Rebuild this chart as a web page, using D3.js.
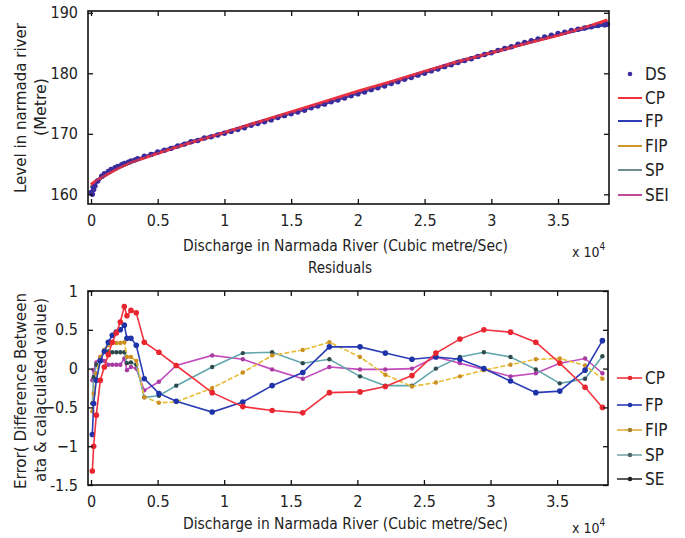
<!DOCTYPE html>
<html>
<head>
<meta charset="utf-8">
<script src="https://cdn.jsdelivr.net/npm/d3@7"></script>
<style>
  body { margin: 0; background: #fff; }
  svg text { font-family: "Liberation Sans Narrow", "DejaVu Sans Condensed", "Arial Narrow", sans-serif; fill: #222; }
</style>
</head>
<body>
<svg id="chart" width="685" height="538"></svg>
<script>
// ---- data (discharge in units of 1e4 cubic metre/sec) ----
var dsQ = [0, 0.01, 0.02, 0.03, 0.05, 0.08, 0.1, 0.13, 0.15, 0.18, 0.2, 0.23, 0.25, 0.28, 0.3, 0.33, 0.35,
           0.4, 0.45, 0.5, 0.55, 0.6, 0.65, 0.7, 0.75, 0.8, 0.85, 0.9, 0.95, 1, 1.05, 1.1, 1.15, 1.2, 1.25,
           1.3, 1.35, 1.4, 1.45, 1.5, 1.55, 1.6, 1.65, 1.7, 1.75, 1.8, 1.85, 1.9, 1.95, 2, 2.05, 2.1, 2.15,
           2.2, 2.25, 2.3, 2.35, 2.4, 2.45, 2.5, 2.55, 2.6, 2.65, 2.7, 2.75, 2.8, 2.85, 2.9, 2.95, 3, 3.05,
           3.1, 3.15, 3.2, 3.25, 3.3, 3.35, 3.4, 3.45, 3.5, 3.55, 3.6, 3.65, 3.7, 3.75, 3.8, 3.85, 3.87];
var dsLevel = [160.3, 160.0, 160.8, 161.4, 162.2, 163.0, 163.4, 163.8, 164.1, 164.4, 164.6, 164.9, 165.1, 165.3, 165.5, 165.7, 165.9,
               166.3, 166.6, 167.0, 167.3, 167.6, 168.0, 168.3, 168.7, 168.9, 169.3, 169.5, 169.8, 170.1, 170.4, 170.7, 171.0, 171.4, 171.7,
               172.0, 172.3, 172.7, 173.0, 173.3, 173.6, 173.9, 174.3, 174.6, 174.9, 175.3, 175.6, 175.9, 176.3, 176.6, 176.9, 177.3, 177.6,
               177.9, 178.3, 178.6, 179.0, 179.3, 179.7, 180.0, 180.4, 180.7, 181.1, 181.4, 181.8, 182.1, 182.4, 182.8, 183.1, 183.4, 183.8,
               184.1, 184.4, 184.8, 185.1, 185.4, 185.7, 186.0, 186.3, 186.6, 186.8, 187.1, 187.3, 187.5, 187.7, 187.9, 188.0, 188.1];

var fitQ = [0, 0.05, 0.1, 0.2, 0.3, 0.5, 0.75, 1, 1.25, 1.5, 1.75, 2, 2.25, 2.5, 2.75, 3, 3.25, 3.5, 3.75, 3.87];
var fitCP  = [161.6, 162.4, 163.1, 164.3, 165.3, 166.8, 168.6, 170.2, 171.9, 173.6, 175.3, 177.0, 178.6, 180.3, 181.9, 183.4, 184.9, 186.3, 187.9, 188.8];
var fitFP  = [161.0, 162.2, 163.1, 164.4, 165.4, 167.0, 168.7, 170.2, 171.8, 173.4, 175.0, 176.7, 178.4, 180.1, 181.8, 183.4, 185.0, 186.4, 187.6, 188.1];
var fitFIP = [161.2, 162.3, 163.1, 164.3, 165.3, 166.9, 168.6, 170.1, 171.8, 173.5, 175.1, 176.8, 178.5, 180.2, 181.9, 183.4, 185.0, 186.4, 187.7, 188.3];
var fitSP  = [161.1, 162.2, 163.1, 164.3, 165.3, 166.9, 168.6, 170.2, 171.9, 173.5, 175.1, 176.8, 178.5, 180.2, 181.9, 183.4, 184.9, 186.4, 187.7, 188.4];
var fitSEI = [161.3, 162.3, 163.0, 164.3, 165.3, 166.8, 168.6, 170.2, 171.9, 173.5, 175.2, 176.9, 178.6, 180.3, 182.0, 183.4, 184.9, 186.3, 187.8, 188.5];

var resQ = [0.01, 0.02, 0.04, 0.07, 0.1, 0.13, 0.16, 0.19, 0.22, 0.25, 0.27, 0.3, 0.34, 0.4, 0.51, 0.64,
            0.91, 1.14, 1.36, 1.59, 1.79, 2.02, 2.21, 2.41, 2.59, 2.77, 2.95, 3.15, 3.34, 3.52, 3.71, 3.84];
var resCP  = [-1.32, -1.0, -0.6, -0.15, 0.02, 0.18, 0.34, 0.46, 0.6, 0.8, 0.68, 0.75, 0.72, 0.34, 0.21, 0.04,
              -0.31, -0.49, -0.54, -0.57, -0.31, -0.3, -0.23, -0.09, 0.2, 0.38, 0.5, 0.47, 0.34, 0.07, -0.24, -0.5];
var resFP  = [-0.85, -0.45, -0.15, 0.1, 0.22, 0.34, 0.43, 0.47, 0.5, 0.56, 0.39, 0.39, 0.3, -0.13, -0.32, -0.42,
              -0.56, -0.43, -0.22, -0.05, 0.28, 0.28, 0.2, 0.12, 0.15, 0.12, 0.0, -0.16, -0.31, -0.29, -0.02, 0.36];
var resFIP = [-0.55, -0.32, -0.06, 0.15, 0.24, 0.3, 0.33, 0.33, 0.33, 0.34, 0.15, 0.15, 0.1, -0.37, -0.44, -0.43,
              -0.25, -0.05, 0.17, 0.24, 0.34, 0.15, -0.08, -0.23, -0.18, -0.1, -0.02, 0.05, 0.12, 0.13, 0.04, -0.13];
var resSP  = [-0.45, -0.11, 0.05, 0.13, 0.24, 0.22, 0.21, 0.21, 0.21, 0.21, 0.07, 0.08, 0.05, -0.37, -0.35, -0.22,
              0.02, 0.2, 0.21, 0.07, 0.12, -0.1, -0.22, -0.22, 0.0, 0.15, 0.21, 0.15, -0.01, -0.19, -0.13, 0.16];
var resSE  = [-0.15, -0.02, 0.08, 0.15, 0.1, 0.05, 0.05, 0.05, 0.05, 0.13, -0.02, 0.02, 0.0, -0.28, -0.17, 0.04,
              0.17, 0.12, -0.01, -0.13, 0.02, -0.01, -0.01, 0.0, 0.15, 0.07, -0.01, -0.1, -0.06, 0.07, 0.13, -0.06];

var xTicks = [0, 0.5, 1, 1.5, 2, 2.5, 3, 3.5];
var levelTicks = [160, 170, 180, 190];
var errTicks = [-1.5, -1, -0.5, 0, 0.5, 1];

var topNames = ["DS", "CP", "FP", "FIP", "SP", "SEI"];
var topColors = ["#3b2c9e", "#f2333f", "#2a3db5", "#d0962a", "#6f8d93", "#c2489a"];
var resNames = ["CP", "FP", "FIP", "SP", "SE"];
var resLine = ["#f2333f", "#2a3db5", "#e6bd35", "#62a7ad", "#c24cbc"];
var resDot  = ["#e8262f", "#1f33a8", "#cc8f22", "#2f4a4a", "#a83aa2"];
var resLegendLine = ["#f2333f", "#2a3db5", "#e0b23a", "#7aa6ac", "#303030"];
var resLegendDot  = ["#e8262f", "#1f33a8", "#a08030", "#506868", "#202020"];

var svg = d3.select("#chart");

// ---- layout ----
var top1 = { left: 88, right: 609, top: 11, bottom: 204 };
var bot1 = { left: 88, right: 608, top: 291, bottom: 485 };

var x1 = d3.scaleLinear().domain([-0.0225, 3.882]).range([top1.left, top1.right]);
var y1 = d3.scaleLinear().domain([158.4, 190.3]).range([top1.bottom, top1.top]);
var x2 = d3.scaleLinear().domain([-0.0225, 3.882]).range([bot1.left, bot1.right]);
var y2 = d3.scaleLinear().domain([-1.5, 1]).range([bot1.bottom, bot1.top]);

function drawFrame(b, xs, ys, yt, ytFmt) {
  var g = svg.append("g");
  // inward ticks on all four sides, matlab style
  g.append("g").attr("transform", "translate(0," + b.bottom + ")")
    .call(d3.axisBottom(xs).tickValues(xTicks).tickSizeInner(-5).tickSizeOuter(0).tickPadding(11).tickFormat(d3.format("")))
    .call(function (a) { a.select(".domain").remove(); a.selectAll("line").attr("stroke", "#111").attr("stroke-width", 1.3); a.selectAll("text").style("font-size", "16px").attr("fill", "#222"); });
  g.append("g").attr("transform", "translate(0," + b.top + ")")
    .call(d3.axisTop(xs).tickValues(xTicks).tickSizeInner(-5).tickSizeOuter(0).tickFormat(""))
    .call(function (a) { a.select(".domain").remove(); a.selectAll("line").attr("stroke", "#111").attr("stroke-width", 1.3); });
  g.append("g").attr("transform", "translate(" + b.left + ",0)")
    .call(d3.axisLeft(ys).tickValues(yt).tickSizeInner(-5).tickSizeOuter(0).tickPadding(10).tickFormat(ytFmt))
    .call(function (a) { a.select(".domain").remove(); a.selectAll("line").attr("stroke", "#111").attr("stroke-width", 1.3); a.selectAll("text").style("font-size", "16px").attr("fill", "#222"); });
  g.append("g").attr("transform", "translate(" + b.right + ",0)")
    .call(d3.axisRight(ys).tickValues(yt).tickSizeInner(-5).tickSizeOuter(0).tickFormat(""))
    .call(function (a) { a.select(".domain").remove(); a.selectAll("line").attr("stroke", "#111").attr("stroke-width", 1.3); });
  g.append("rect")
    .attr("x", b.left).attr("y", b.top)
    .attr("width", b.right - b.left).attr("height", b.bottom - b.top)
    .attr("fill", "none").attr("stroke", "#111").attr("stroke-width", 1.6);
}

// ---- top plot ----
var lineTop = d3.line().x(function (d) { return x1(d[0]); }).y(function (d) { return y1(d[1]); });
var fits = [fitCP, fitFP, fitFIP, fitSP, fitSEI];
var drawOrder = [4, 3, 2, 1, 0];
drawOrder.forEach(function (k) {
  svg.append("path")
    .datum(fitQ.map(function (q, i) { return [q, fits[k][i]]; }))
    .attr("d", lineTop)
    .attr("fill", "none")
    .attr("stroke", topColors[k + 1])
    .attr("stroke-width", k === 0 ? 3.4 : 2.8);
});
svg.append("g").selectAll("circle")
  .data(dsQ.map(function (q, i) { return [q, dsLevel[i]]; }))
  .enter().append("circle")
  .attr("cx", function (d) { return x1(d[0]); })
  .attr("cy", function (d) { return y1(d[1]); })
  .attr("r", 2.7)
  .attr("fill", topColors[0]);
// red fit laid partly over the data, as in the figure
svg.append("path")
  .datum(fitQ.map(function (q, i) { return [q, fitCP[i]]; }))
  .attr("d", lineTop).attr("fill", "none").attr("stroke", topColors[1]).attr("stroke-width", 2).attr("opacity", 0.75);

drawFrame(top1, x1, y1, levelTicks, d3.format(""));

// top legend
var legTopY = [74, 98, 121, 146, 170, 195];
topNames.forEach(function (n, i) {
  if (i === 0) {
    svg.append("circle").attr("cx", 630).attr("cy", legTopY[i]).attr("r", 2.3).attr("fill", topColors[0]);
  } else {
    svg.append("line").attr("x1", 618).attr("x2", 642).attr("y1", legTopY[i]).attr("y2", legTopY[i])
      .attr("stroke", topColors[i]).attr("stroke-width", 2);
  }
  svg.append("text").attr("x", 645).attr("y", legTopY[i] + 6).style("font-size", "17px").text(n);
});

// ---- bottom plot ----
var lineBot = d3.line().x(function (d) { return x2(d[0]); }).y(function (d) { return y2(d[1]); });
var resAll = [resCP, resFP, resFIP, resSP, resSE];
[4, 3, 2, 1, 0].forEach(function (k) {
  var pts = resQ.map(function (q, i) { return [q, resAll[k][i]]; });
  svg.append("path").datum(pts).attr("d", lineBot)
    .attr("fill", "none").attr("stroke", resLine[k]).attr("stroke-width", 1.6)
    .attr("stroke-dasharray", k === 2 ? "5,2" : null);
  svg.append("g").selectAll("circle").data(pts).enter().append("circle")
    .attr("cx", function (d) { return x2(d[0]); })
    .attr("cy", function (d) { return y2(d[1]); })
    .attr("r", k === 0 || k === 1 ? 2.8 : 2.2)
    .attr("fill", resDot[k]);
});

drawFrame(bot1, x2, y2, errTicks, function (d) { return d === -1.5 ? "-1.5" : d3.format("")(d); });

var legBotY = [378, 405, 430, 455, 479];
resNames.forEach(function (n, i) {
  svg.append("line").attr("x1", 617).attr("x2", 642).attr("y1", legBotY[i]).attr("y2", legBotY[i])
    .attr("stroke", resLegendLine[i]).attr("stroke-width", 1.6);
  svg.append("circle").attr("cx", 630).attr("cy", legBotY[i]).attr("r", 2.3).attr("fill", resLegendDot[i]);
  svg.append("text").attr("x", 645).attr("y", legBotY[i] + 6).style("font-size", "17px").text(n);
});

// ---- labels ----
function xLabel(y) {
  svg.append("text").attr("x", 183).attr("y", y)
    .attr("textLength", 325).attr("lengthAdjust", "spacingAndGlyphs")
    .style("font-size", "16px").text("Discharge in Narmada River  (Cubic metre/Sec)");
}
xLabel(251);
xLabel(529);

function exponent(y) {
  var t = svg.append("text").attr("x", 572).attr("y", y).style("font-size", "14px");
  t.append("tspan").text("x 10");
  t.append("tspan").attr("dy", -7).style("font-size", "10px").text("4");
}
exponent(257);
exponent(533);

svg.append("text").attr("x", 340).attr("y", 273).attr("text-anchor", "middle")
  .style("font-size", "15px").text("Residuals");

function yLabel(cx, cy, len, txt) {
  svg.append("text")
    .attr("transform", "translate(" + cx + "," + cy + ") rotate(-90)")
    .attr("text-anchor", "middle")
    .attr("textLength", len).attr("lengthAdjust", "spacingAndGlyphs")
    .style("font-size", "16px").text(txt);
}
yLabel(26, 108, 170, "Level in narmada river");
yLabel(46, 107, 58, "(Metre)");
yLabel(26, 391, 196, "Error( Difference Between");
yLabel(46, 390, 184, "ata & calaculated value)");
</script>
</body>
</html>
